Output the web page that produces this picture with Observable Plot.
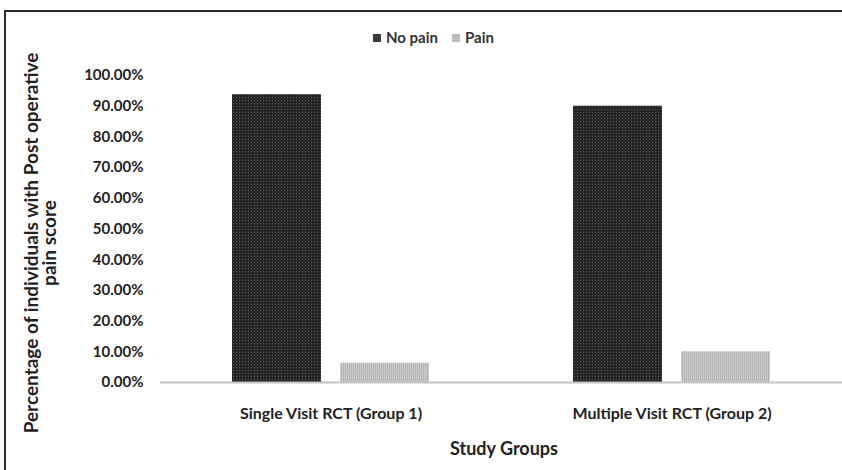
<!DOCTYPE html>
<html>
<head>
<meta charset="utf-8">
<script src="https://cdn.jsdelivr.net/npm/d3@7"></script>
<script src="https://cdn.jsdelivr.net/npm/@observablehq/plot@0.6"></script>
<style>
  html, body { margin: 0; padding: 0; background: #fff; }
  body { width: 842px; height: 470px; position: relative; overflow: hidden; font-family: Lato, "Open Sans", sans-serif; }
  #frame { position: absolute; left: 4px; top: 10px; width: 900px; height: 600px; border-left: 2.5px solid #2a2a2a; border-top: 2.5px solid #2a2a2a; box-sizing: border-box; }
  #chart { position: absolute; left: 0; top: 0; }
  #legend { position: absolute; top: 28px; left: 373px; font-size: 15px; font-weight: 700; color: #333; white-space: nowrap; line-height: 18px; }
  #legend span.sw { display: inline-block; width: 8px; height: 8px; margin-right: 5px; vertical-align: 1px; }
  #legend span.item { margin-right: 14px; }
  #ytitle { position: absolute; left: 40px; top: 243px; width: 480px; transform: translate(-50%, -50%) rotate(-90deg); text-align: center; font-size: 19px; font-weight: 700; color: #222; line-height: 18px; white-space: nowrap; }
  #xtitle { position: absolute; top: 437px; left: 504px; transform: translateX(-50%); font-size: 18px; font-weight: 700; color: #222; white-space: nowrap; }
</style>
</head>
<body>
<div id="frame"></div>
<div id="chart"></div>
<div id="legend"></div>
<div id="ytitle">Percentage of individuals with Post operative<br>pain score</div>
<div id="xtitle">Study Groups</div>
<svg width="0" height="0" style="position:absolute">
  <defs>
    <pattern id="pDark" width="3" height="3" patternUnits="userSpaceOnUse">
      <rect width="3" height="3" fill="#262626"></rect>
      <rect x="1" y="1" width="1" height="1" fill="#5a5a5a"></rect>
    </pattern>
    <pattern id="pLight" width="2" height="2" patternUnits="userSpaceOnUse">
      <rect width="2" height="2" fill="#b3b3b3"></rect>
      <rect x="1" y="0" width="1" height="2" fill="#cdcdcd"></rect>
    </pattern>
  </defs>
</svg>
<script>
const groups = ["Single Visit RCT (Group 1)", "Multiple Visit RCT (Group 2)"];
const series = ["No pain", "Pain"];
const noPain = [0.9375, 0.90];
const pain = [0.0625, 0.10];
const yTicks = [0, 0.1, 0.2, 0.3, 0.4, 0.5, 0.6, 0.7, 0.8, 0.9, 1.0];
const seriesFill = ["url(#pDark)", "url(#pLight)"];
const legendColors = ["#3a3a3a", "#bdbdbd"];

const data = [];
groups.forEach((g, i) => {
  data.push({group: g, series: series[0], value: noPain[i]});
  data.push({group: g, series: series[1], value: pain[i]});
});

const plot = Plot.plot({
  width: 842,
  height: 470,
  marginLeft: 159,
  marginRight: -9,
  marginTop: 75,
  marginBottom: 88,
  facet: {marginTop: 0, marginRight: 0, marginBottom: 0, marginLeft: 0},
  style: {fontFamily: "Lato, 'Open Sans', sans-serif", fontSize: "15px", fontWeight: 700, color: "#222", background: "transparent"},
  fx: {domain: groups, padding: 0, label: null, tickSize: 0, tickPadding: 25, axis: "bottom", fontSize: 16},
  x: {domain: series, paddingInner: 0.1735, paddingOuter: 0.664, axis: null},
  y: {domain: [0, 1], ticks: yTicks, tickFormat: d3.format(".2%"), tickSize: 0, tickPadding: 17, label: null, grid: false},
  color: {domain: series, range: seriesFill},
  marks: [
    Plot.barY(data, {fx: "group", x: "series", y: "value", fill: "series"}),
    Plot.ruleY([0], {stroke: "#c4c4c4", strokeWidth: 2})
  ]
});
document.getElementById("chart").appendChild(plot);
plot.querySelectorAll("[aria-label='fx-axis tick label'] text, [aria-label='fx-axis tick label']").forEach(el => el.setAttribute("font-size", "16"));

const legend = document.getElementById("legend");
series.forEach((s, i) => {
  const item = document.createElement("span");
  item.className = "item";
  const sw = document.createElement("span");
  sw.className = "sw";
  sw.style.background = legendColors[i];
  item.appendChild(sw);
  item.appendChild(document.createTextNode(s));
  legend.appendChild(item);
});
</script>
</body>
</html>
